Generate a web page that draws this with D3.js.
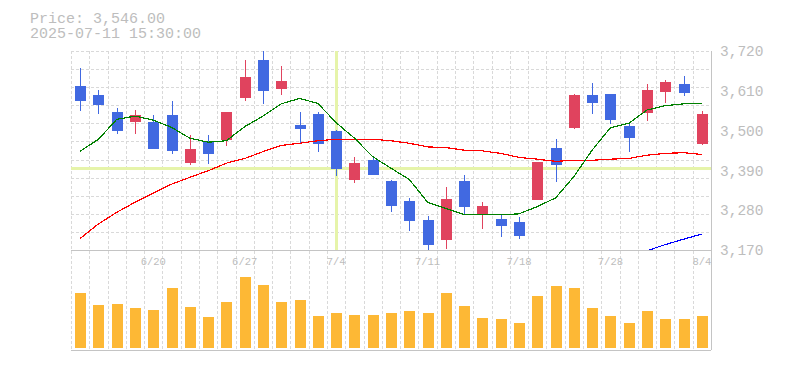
<!DOCTYPE html>
<html>
<head>
<meta charset="utf-8">
<script src="https://cdn.jsdelivr.net/npm/d3@7"></script>
<style>
  body { margin: 0; background: #fff; }
  svg { display: block; }
</style>
</head>
<body>
<div id="chart"></div>
<script>
// Trading days (6/16 - 8/4), 7/21 is a holiday
const dates = ["6/16","6/17","6/18","6/19","6/20","6/23","6/24","6/25","6/26","6/27",
  "6/30","7/1","7/2","7/3","7/4","7/7","7/8","7/9","7/10","7/11",
  "7/14","7/15","7/16","7/17","7/18","7/22","7/23","7/24","7/25","7/28",
  "7/29","7/30","7/31","8/1","8/4"];

const open  = [3623,3598,3551,3524,3524,3543,3411,3468,3475,3591,3695,3615,3515,3546,3499,3364,3419,3362,3305,3254,3198,3362,3270,3257,3248,3309,3453,3508,3599,3602,3514,3550,3608,3630,3464];
const high  = [3673,3612,3562,3557,3543,3582,3488,3488,3551,3695,3730,3679,3551,3551,3502,3427,3424,3364,3314,3265,3345,3378,3303,3270,3262,3414,3478,3602,3632,3602,3519,3630,3641,3652,3555];
const low   = [3554,3546,3491,3491,3448,3436,3406,3409,3458,3582,3574,3598,3466,3441,3375,3356,3376,3276,3223,3171,3174,3270,3229,3207,3201,3308,3359,3505,3547,3519,3442,3527,3577,3596,3461];
const close = [3582,3571,3500,3543,3450,3444,3449,3436,3551,3648,3610,3637,3504,3463,3395,3410,3378,3292,3251,3185,3312,3290,3292,3237,3210,3413,3406,3599,3577,3530,3480,3613,3635,3605,3546];
const volume = [553000,433000,443000,403000,383000,603000,413000,313000,463000,713000,633000,463000,483000,323000,353000,333000,333000,353000,373000,353000,553000,423000,303000,293000,253000,523000,623000,603000,403000,323000,253000,373000,293000,293000,323000];

// moving averages
const ma5  = [3443,3476,3531,3540,3529,3509,3479,3468,3472,3511,3540,3574,3589,3575,3522,3479,3428,3396,3365,3302,3285,3268,3268,3267,3270,3290,3314,3373,3446,3508,3520,3557,3569,3574,3575];
const ma25 = [3202,3242,3274,3302,3327,3352,3371,3389,3410,3423,3442,3459,3465,3472,3476,3476,3476,3472,3465,3455,3453,3446,3444,3437,3426,3421,3415,3418,3418,3421,3423,3432,3437,3439,3434];
const ma75 = [null,null,null,null,null,null,null,null,null,null,null,null,null,null,null,null,null,null,null,null,null,null,null,null,null,null,null,null,null,null,null,3168,3185,3200,3214];

const priceTicks = [3170,3280,3390,3500,3610,3720];
const gridPrices = [3170,3220,3270,3320,3370,3420,3470,3520,3570,3620,3670,3720];
const dateTicks = ["6/20","6/27","7/4","7/11","7/18","7/28","8/4"];
const headerLines = ["Price: 3,546.00", "2025-07-11 15:30:00"];
const crossDate = "7/4";
const crossPrice = 3395;

function drawChart() {
  const width = 785, height = 370;
  const left = 71, right = 711;
  const priceTop = 51, priceBottom = 250;
  const volTop = 268, volBottom = 348, panelBottom = 350;

  const svg = d3.select("#chart").append("svg")
    .attr("width", width)
    .attr("height", height);

  const x = d3.scaleBand().domain(dates).range([left, right]).padding(0);
  const cx = d => x(d) + x.bandwidth() / 2;
  const bodyW = Math.round(x.bandwidth() * 0.6);

  const y = d3.scaleLinear().domain([3170, 3720]).range([priceBottom, priceTop]);
  const yv = d3.scaleLinear().domain([0, 800000]).range([volBottom, volTop]);

  const gridColor = "#d9d9d9";
  const textColor = "#bdbdbd";

  svg.append("clipPath").attr("id", "clip-price")
    .append("rect")
    .attr("x", left).attr("y", priceTop)
    .attr("width", right - left).attr("height", priceBottom - priceTop);

  // header text
  svg.selectAll(".hdr")
    .data(headerLines)
    .enter().append("text")
    .attr("x", 30)
    .attr("y", (d, i) => 22.5 + i * 15.5)
    .style("font-family", "Liberation Mono, DejaVu Sans Mono, monospace")
    .style("font-size", "15px")
    .style("fill", textColor)
    .text(d => d);

  const grid = svg.append("g").style("shape-rendering", "crispEdges");

  // horizontal grid (price panel)
  grid.selectAll(".hg")
    .data(gridPrices.slice(1))
    .enter().append("line")
    .attr("x1", left).attr("x2", right)
    .attr("y1", d => Math.round(y(d)) + 0.5)
    .attr("y2", d => Math.round(y(d)) + 0.5)
    .attr("stroke", gridColor)
    .attr("stroke-dasharray", "3,2");

  // vertical grid at band edges
  grid.selectAll(".vg")
    .data(dates)
    .enter().append("line")
    .attr("x1", d => Math.round(x(d)) + 0.5)
    .attr("x2", d => Math.round(x(d)) + 0.5)
    .attr("y1", priceTop)
    .attr("y2", panelBottom)
    .attr("stroke", gridColor)
    .attr("stroke-dasharray", "3,2");

  // solid frame lines
  grid.append("line")
    .attr("x1", left).attr("x2", right)
    .attr("y1", priceBottom + 0.5).attr("y2", priceBottom + 0.5)
    .attr("stroke", "#c4c4c4");
  grid.append("line")
    .attr("x1", left).attr("x2", right)
    .attr("y1", panelBottom + 0.5).attr("y2", panelBottom + 0.5)
    .attr("stroke", "#c4c4c4");
  grid.append("line")
    .attr("x1", right + 0.5).attr("x2", right + 0.5)
    .attr("y1", priceTop).attr("y2", panelBottom)
    .attr("stroke", "#c4c4c4");

  // crosshair
  const cross = svg.append("g").style("shape-rendering", "crispEdges");
  cross.append("line")
    .attr("x1", left).attr("x2", right)
    .attr("y1", y(crossPrice)).attr("y2", y(crossPrice))
    .attr("stroke", "#e6f4aa").attr("stroke-width", 3);
  cross.append("line")
    .attr("x1", cx(crossDate)).attr("x2", cx(crossDate))
    .attr("y1", priceTop).attr("y2", priceBottom)
    .attr("stroke", "#e6f4aa").attr("stroke-width", 3);

  // candles
  const candles = dates.map((d, i) => ({
    date: d, o: open[i], h: high[i], l: low[i], c: close[i]
  }));
  const upColor = "#e0435e", downColor = "#4169e1";

  const cg = svg.append("g")
    .attr("clip-path", "url(#clip-price)")
    .style("shape-rendering", "crispEdges");

  cg.selectAll(".wick")
    .data(candles)
    .enter().append("line")
    .attr("x1", d => Math.round(cx(d.date)) + 0.5)
    .attr("x2", d => Math.round(cx(d.date)) + 0.5)
    .attr("y1", d => y(d.h))
    .attr("y2", d => y(d.l))
    .attr("stroke", d => d.c >= d.o ? upColor : downColor)
    .attr("stroke-width", 1.5);

  cg.selectAll(".body")
    .data(candles)
    .enter().append("rect")
    .attr("x", d => Math.round(cx(d.date)) - Math.floor(bodyW / 2))
    .attr("y", d => y(Math.max(d.o, d.c)))
    .attr("width", bodyW)
    .attr("height", d => Math.max(1, y(Math.min(d.o, d.c)) - y(Math.max(d.o, d.c))))
    .attr("fill", d => d.c >= d.o ? upColor : downColor);

  // moving average lines
  const maSeries = [
    { values: ma75, color: "#0000ff" },
    { values: ma25, color: "#ff0000" },
    { values: ma5, color: "#008000" }
  ];
  const line = d3.line()
    .defined(d => d.v != null)
    .x(d => cx(d.date))
    .y(d => y(d.v));

  cg.selectAll(".ma")
    .data(maSeries)
    .enter().append("path")
    .attr("d", s => line(dates.map((d, i) => ({ date: d, v: s.values[i] }))))
    .attr("fill", "none")
    .attr("stroke", s => s.color)
    .attr("stroke-width", 1.2);

  // volume bars
  svg.append("g").style("shape-rendering", "crispEdges")
    .selectAll("rect")
    .data(dates)
    .enter().append("rect")
    .attr("x", d => Math.round(cx(d)) - Math.floor(bodyW / 2))
    .attr("y", (d, i) => yv(volume[i]))
    .attr("width", bodyW)
    .attr("height", (d, i) => yv(0) - yv(volume[i]))
    .attr("fill", "#fdb835");

  // right price axis
  const yAxis = svg.append("g")
    .attr("transform", `translate(${right},0)`)
    .call(d3.axisRight(y).tickValues(priceTicks).tickSize(0).tickPadding(9).tickFormat(d3.format(",")));
  yAxis.select(".domain").remove();
  yAxis.selectAll("text")
    .style("font-family", "Liberation Mono, DejaVu Sans Mono, monospace")
    .style("font-size", "14.5px")
    .style("fill", textColor);

  // date labels
  const xAxis = svg.append("g")
    .attr("transform", `translate(0,${priceBottom})`)
    .call(d3.axisBottom(x).tickValues(dateTicks).tickSize(0).tickPadding(8));
  xAxis.select(".domain").remove();
  xAxis.selectAll("text")
    .style("font-family", "Liberation Mono, DejaVu Sans Mono, monospace")
    .style("font-size", "10.5px")
    .style("fill", textColor);
}

drawChart();
</script>
</body>
</html>
